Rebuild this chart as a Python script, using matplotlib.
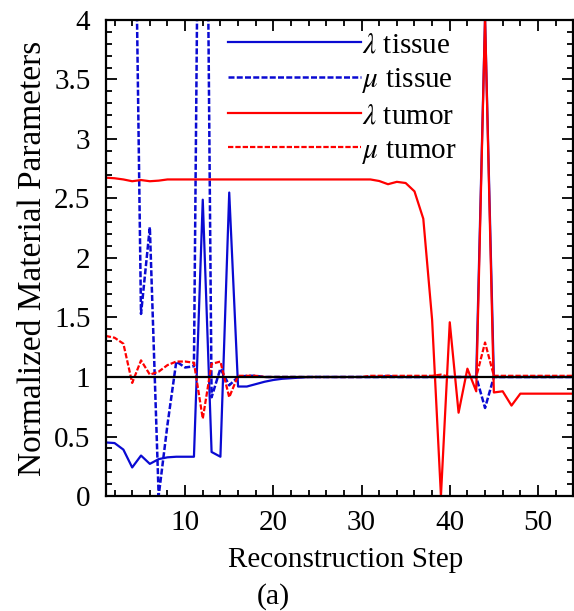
import numpy as np
import matplotlib
matplotlib.use("Agg")
import matplotlib.pyplot as plt
from matplotlib.ticker import MultipleLocator

plt.rcParams['font.family'] = ['Liberation Serif', 'DejaVu Serif']
plt.rcParams['mathtext.fontset'] = 'stix'

# reconstruction steps 1..54
steps = np.arange(1, 55)

lam_tissue = ([0.45, 0.445, 0.39, 0.24, 0.34, 0.27, 0.31, 0.325, 0.33, 0.33,
               0.33, 2.49, 0.37, 0.33, 2.55, 0.92, 0.92, 0.94, 0.96, 0.975,
               0.985, 0.99, 0.995] + [1.0] * 9 + [1.01] + [1.0] * 10
              + [4.02] + [1.0] * 10)

mu_tissue = ([9.0, 9.0, 8.0, 7.0, 1.53, 2.26, 0.0, 0.6, 1.13, 1.08,
              1.09, 9.5, 0.83, 1.07, 0.93, 1.0, 1.01, 1.01] + [1.0] * 25
             + [0.74] + [1.0] * 10)

lam_tumor = ([2.675, 2.67, 2.66, 2.645, 2.655, 2.645, 2.65] + [2.66] * 24
             + [2.647, 2.62, 2.64, 2.63, 2.56, 2.33, 1.48, 0.0, 1.46, 0.70,
                1.07, 0.88, 4.02, 0.87, 0.88, 0.76, 0.86] + [0.86] * 6)

mu_tumor = ([1.345, 1.33, 1.28, 0.95, 1.14, 1.02, 1.045, 1.10, 1.13, 1.13,
             1.12, 0.65, 1.11, 1.13, 0.83, 1.01, 1.01, 1.01] + [1.0] * 12
            + [1.01] * 8 + [1.02] + [1.0] * 4 + [1.29] + [1.01] * 10)

labels = [r'$\lambda$ tissue', r'$\mu$ tissue', r'$\lambda$ tumor', r'$\mu$ tumor']

blue = '#0a0ad2'
red = '#ff0000'
dots = (0, (2.4, 0.9))

fig = plt.figure(figsize=(5.74, 6.11), dpi=100)
ax = fig.add_axes([0.1842, 0.1882, 0.8145, 0.7791])

ax.plot(steps, lam_tissue, color=blue, lw=1.6, label=labels[0])
ax.plot(steps, mu_tissue, color=blue, lw=1.8, ls=dots, label=labels[1])
ax.plot(steps, lam_tumor, color=red, lw=1.6, label=labels[2])
ax.plot(steps, mu_tumor, color=red, lw=1.6, ls=dots, label=labels[3])
ax.axhline(1.0, color='black', lw=1.6, zorder=5)

ax.set_xlim(1, 54)
ax.set_ylim(0, 4)
ax.xaxis.set_major_locator(MultipleLocator(10))
ax.xaxis.set_minor_locator(MultipleLocator(2))
ax.yaxis.set_major_locator(MultipleLocator(0.5))
ax.yaxis.set_minor_locator(MultipleLocator(0.1))
ax.yaxis.set_major_formatter(plt.FuncFormatter(lambda v, p: ('%g' % v)))

ax.tick_params(which='both', direction='in', top=True, right=True, width=1.3,
               labelsize=21)
ax.tick_params(which='major', length=8)
ax.tick_params(which='minor', length=4.5)
ax.tick_params(axis='x', pad=10)
ax.tick_params(axis='y', pad=11)
for sp in ax.spines.values():
    sp.set_linewidth(1.6)

ax.set_xlabel('Reconstruction Step', fontsize=21, labelpad=8)
ax.xaxis.label.set_x(0.514)
ax.set_ylabel('Normalized Material Parameters', fontsize=24, labelpad=4)

leg = ax.legend(loc='upper left', bbox_to_anchor=(0.224, 1.012), frameon=False,
                fontsize=21, handlelength=4.55, handletextpad=0.05,
                labelspacing=0.27, borderaxespad=0.2)

fig.text(0.477, 0.0237, '(a)', fontsize=21.5, ha='center', va='center')

fig.savefig('out.png', dpi=100)
